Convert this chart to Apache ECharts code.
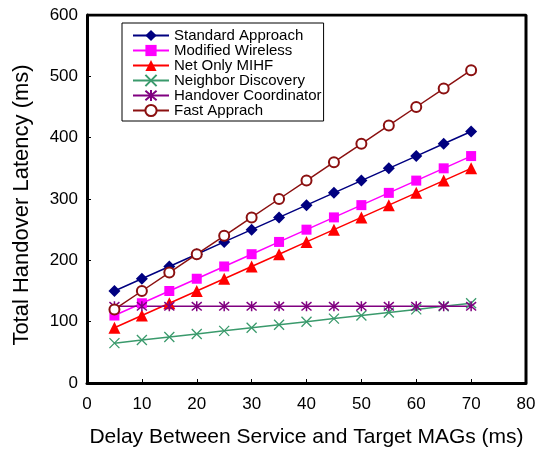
<!DOCTYPE html>
<html>
<head>
<meta charset="utf-8" />
<title>Handover latency</title>
<script src="https://cdn.jsdelivr.net/npm/echarts@6/dist/echarts.min.js"></script>
<style>
  html, body { margin: 0; padding: 0; background: #fff; }
  #chart { width: 542px; height: 450px; }
</style>
</head>
<body>
<div id="chart"></div>
<script>
// delay between service and target MAGs (ms)
var delays = [5, 10, 15, 20, 25, 30, 35, 40, 45, 50, 55, 60, 65, 70];

var standardApproach = [150, 170, 190, 210, 230, 250, 270, 290, 310, 330, 350, 370, 390, 410];
var modifiedWireless = [110, 130, 150, 170, 190, 210, 230, 250, 270, 290, 310, 330, 350, 370];
var netOnlyMihf = [90, 110, 130, 150, 170, 190, 210, 230, 250, 270, 290, 310, 330, 350];
var neighborDiscovery = [65, 70, 75, 80, 85, 90, 95, 100, 105, 110, 115, 120, 125, 130];
var handoverCoordinator = [125, 125, 125, 125, 125, 125, 125, 125, 125, 125, 125, 125, 125, 125];
var fastApprach = [120, 150, 180, 210, 240, 270, 300, 330, 360, 390, 420, 450, 480, 510];

var font = 'Liberation Sans, Arial, sans-serif';

function pairs(ys) {
  return delays.map(function (x, i) { return [x, ys[i]]; });
}

function mk(name, ys, color, symbol, size, extraItem) {
  var item = { color: color };
  if (extraItem) {
    for (var k in extraItem) item[k] = extraItem[k];
  }
  return {
    name: name,
    type: 'line',
    data: pairs(ys),
    symbol: symbol,
    symbolSize: size,
    showAllSymbol: true,
    lineStyle: { color: color, width: 1.5 },
    itemStyle: item,
    emphasis: { disabled: true },
    animation: false
  };
}

var crossPath = 'path://M0,0L10,10M10,0L0,10';
var starPath = 'path://M0,0L10,10M10,0L0,10M5,-1L5,11';

var chart = echarts.init(document.getElementById('chart'));
chart.setOption({
  backgroundColor: '#fff',
  animation: false,
  grid: { left: 87, right: 16, top: 15, bottom: 67, containLabel: false, outerBoundsMode: 'none' },
  legend: {
    orient: 'vertical',
    left: 122,
    top: 23,
    padding: [5, 2, 3, 10],
    itemGap: 0,
    itemWidth: 36,
    itemHeight: 14,
    borderColor: '#000',
    borderWidth: 1,
    textStyle: { fontFamily: font, fontSize: 15, lineHeight: 14, color: '#000' },
    data: ['Standard Approach', 'Modified Wireless', 'Net Only MIHF',
           'Neighbor Discovery', 'Handover Coordinator', 'Fast Apprach']
  },
  xAxis: {
    type: 'value',
    min: 0,
    max: 80,
    interval: 10,
    name: 'Delay Between Service and Target MAGs (ms)',
    nameLocation: 'middle',
    nameGap: 44,
    nameTextStyle: { fontFamily: font, fontSize: 21, color: '#000' },
    axisLine: { show: true, lineStyle: { color: '#000', width: 3 } },
    axisTick: { show: true, inside: true, length: 4, lineStyle: { color: '#000', width: 1 } },
    axisLabel: { fontFamily: font, fontSize: 17, color: '#000', margin: 13 },
    splitLine: { show: false }
  },
  yAxis: {
    type: 'value',
    min: 0,
    max: 600,
    interval: 100,
    name: 'Total Handover Latency (ms)',
    nameLocation: 'middle',
    nameGap: 54,
    nameTextStyle: { fontFamily: font, fontSize: 22, color: '#000', padding: [0, 12, 0, 0] },
    axisLine: { show: true, lineStyle: { color: '#000', width: 3 } },
    axisTick: { show: true, inside: true, length: 4, lineStyle: { color: '#000', width: 1 } },
    axisLabel: { fontFamily: font, fontSize: 17, color: '#000', margin: 9 },
    splitLine: { show: false }
  },
  series: [
    mk('Standard Approach', standardApproach, '#000080', 'diamond', 12),
    mk('Modified Wireless', modifiedWireless, '#ff00ff', 'rect', 10),
    mk('Net Only MIHF', netOnlyMihf, '#ff0000', 'triangle', 12),
    mk('Neighbor Discovery', neighborDiscovery, '#3a9a6c', crossPath, 10,
       { borderColor: '#3a9a6c', borderWidth: 1.3 }),
    mk('Handover Coordinator', handoverCoordinator, '#800080', starPath, 10,
       { borderColor: '#800080', borderWidth: 1.5 }),
    mk('Fast Apprach', fastApprach, '#8b1010', 'emptyCircle', 10,
       { borderColor: '#8b1010', borderWidth: 1.3 }),
    // top and right frame lines
    {
      type: 'line',
      data: [[0, 600], [80, 600], [80, 0]],
      symbol: 'none',
      silent: true,
      lineStyle: { color: '#000', width: 3 },
      animation: false
    }
  ]
});
</script>
</body>
</html>
